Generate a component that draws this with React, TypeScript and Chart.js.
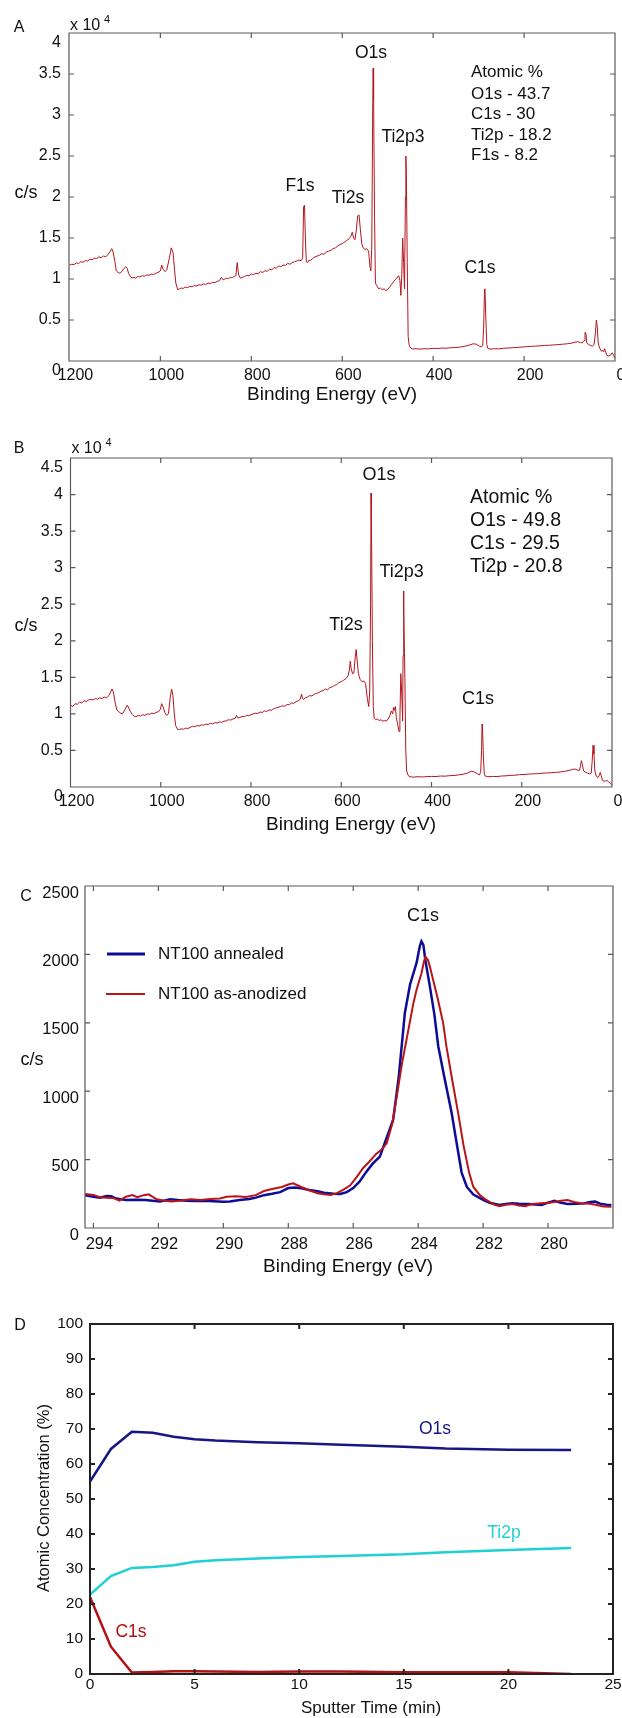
import React, { useEffect, useRef } from "react";
import { Chart, registerables } from "chart.js";

Chart.register(...registerables);

const FONT = '"Liberation Sans", Arial, Helvetica, sans-serif';

// ---------- Panel A: survey spectrum (as-anodized) [binding energy eV, counts/s]
const A_SPECTRUM: [number, number][] = [
  [1200, 11700], [1195, 11800], [1190, 11750], [1185, 11950], [1180, 11900], [1175, 12100],
  [1170, 12050], [1165, 12250], [1160, 12200], [1155, 12400], [1150, 12350], [1145, 12550],
  [1140, 12500], [1135, 12700], [1130, 12600], [1125, 12800], [1120, 12700], [1115, 13000],
  [1110, 13400], [1107, 13700], [1104, 13300], [1100, 12100], [1097, 11000], [1093, 10800],
  [1089, 10700], [1085, 10900], [1080, 11300], [1076, 11500], [1073, 11300], [1070, 10700],
  [1066, 10300], [1062, 10100], [1058, 10200], [1054, 10100], [1050, 10300], [1045, 10250],
  [1040, 10400], [1035, 10350], [1030, 10500], [1025, 10450], [1020, 10600], [1015, 10550],
  [1010, 10700], [1005, 10800], [1000, 11000], [997, 11700], [994, 11200], [990, 10900],
  [986, 11100], [980, 12600], [976, 13800], [972, 13200], [969, 11200], [966, 9500],
  [962, 8700], [958, 8800], [954, 8900], [950, 8850], [945, 9000], [940, 8950], [935, 9100],
  [930, 9050], [925, 9200], [920, 9150], [915, 9300], [910, 9250], [905, 9400], [900, 9350],
  [895, 9500], [890, 9450], [885, 9600], [880, 9550], [875, 9700], [870, 9800], [866, 10200],
  [862, 9900], [858, 10000], [854, 10100], [850, 10050], [846, 10200], [842, 10150],
  [838, 10300], [834, 10400], [831, 12000], [828, 10500], [824, 10100], [820, 10200],
  [815, 10300], [810, 10450], [805, 10400], [800, 10600], [795, 10550], [790, 10700],
  [785, 10650], [780, 10900], [775, 10800], [770, 11000], [765, 10950], [760, 11200],
  [755, 11100], [750, 11400], [745, 11300], [740, 11600], [735, 11500], [730, 11700],
  [725, 11650], [720, 11900], [715, 11800], [710, 12000], [705, 12100], [700, 12200],
  [695, 12300], [690, 12250], [687, 12600], [685, 18800], [683, 19000], [681, 15000],
  [679, 12100], [676, 12000], [673, 12300], [670, 12250], [665, 12500], [660, 12700],
  [655, 12800], [650, 12900], [645, 13100], [640, 13000], [635, 13300], [630, 13400],
  [625, 13500], [620, 13700], [615, 13800], [610, 14000], [605, 14200], [600, 14300],
  [595, 14500], [590, 14700], [585, 14900], [581, 15200], [578, 15700], [575, 15000],
  [572, 14800], [569, 16000], [566, 17700], [563, 17800], [560, 16000], [557, 14300],
  [554, 13800], [550, 13600], [546, 13700], [542, 13400], [539, 11500], [537, 11000],
  [535, 14000], [533, 30000], [532, 35700], [531, 32000], [529, 18000], [527, 9500],
  [524, 9200], [520, 8800], [516, 8900], [512, 8700], [508, 8800], [504, 8600], [500, 8700],
  [496, 9000], [492, 9300], [488, 9600], [484, 9900], [480, 10100], [476, 10400], [473, 9800],
  [471, 8000], [469, 10500], [467, 15000], [465, 12000], [463, 8800], [461, 20000],
  [460, 25000], [459, 23000], [457, 12000], [455, 3000], [453, 2000], [450, 1600], [445, 1450],
  [440, 1500], [430, 1450], [420, 1500], [410, 1480], [400, 1550], [390, 1520], [380, 1580],
  [370, 1560], [360, 1620], [350, 1650], [340, 1700], [330, 1800], [320, 1950], [312, 2100],
  [305, 2050], [298, 1800], [294, 1700], [291, 1900], [289, 4000], [287, 8700], [286, 8800],
  [284, 5000], [282, 2000], [280, 1550], [275, 1450], [265, 1500], [255, 1480], [245, 1550],
  [235, 1580], [225, 1620], [215, 1650], [205, 1700], [195, 1750], [185, 1780], [175, 1820],
  [165, 1850], [155, 1900], [145, 1920], [135, 1960], [125, 2000], [115, 2050], [105, 2100],
  [95, 2180], [88, 2300], [82, 2350], [76, 2250], [72, 2200], [68, 2500], [66, 3500],
  [64, 3400], [62, 2200], [58, 2000], [54, 1900], [50, 1800], [46, 2000], [43, 3500],
  [41, 5000], [39, 4200], [37, 2200], [34, 1600], [30, 1200], [27, 1300], [25, 1100],
  [23, 1500], [21, 1200], [18, 700], [14, 600], [10, 700], [6, 1000], [3, 700], [1, 400], [0, 300],
];

// ---------- Panel B: survey spectrum (annealed)
const B_SPECTRUM: [number, number][] = [
  [1200, 11200], [1195, 11000], [1190, 11400], [1185, 11300], [1180, 11600], [1175, 11500],
  [1170, 11800], [1165, 11700], [1160, 11900], [1155, 12000], [1150, 11900], [1145, 12100],
  [1140, 12000], [1135, 12200], [1130, 12100], [1125, 12300], [1120, 12200], [1115, 12500],
  [1111, 13000], [1108, 13400], [1105, 13000], [1101, 11500], [1097, 10500], [1093, 10300],
  [1089, 10100], [1085, 10000], [1081, 10400], [1077, 10900], [1074, 11200], [1071, 10800],
  [1067, 10300], [1063, 9900], [1059, 9700], [1055, 9600], [1050, 9800], [1045, 9700],
  [1040, 9900], [1035, 9800], [1030, 10000], [1025, 9950], [1020, 10100], [1015, 10050],
  [1010, 10200], [1005, 10300], [1001, 10600], [998, 11400], [995, 11000], [991, 10200],
  [987, 9800], [983, 10000], [979, 12200], [976, 13400], [973, 12500], [970, 10000],
  [967, 8400], [963, 7900], [959, 7850], [955, 7950], [950, 7900], [945, 8050], [940, 8000],
  [935, 8150], [930, 8300], [925, 8250], [920, 8400], [915, 8350], [910, 8500], [905, 8450],
  [900, 8600], [895, 8550], [890, 8700], [885, 8650], [880, 8800], [875, 8750], [870, 8900],
  [865, 8850], [860, 9000], [855, 9050], [850, 9200], [845, 9150], [840, 9300], [835, 9400],
  [832, 9800], [829, 9450], [825, 9500], [820, 9650], [815, 9600], [810, 9800], [805, 9750],
  [800, 9900], [795, 10000], [790, 10100], [785, 10050], [780, 10250], [775, 10200],
  [770, 10400], [765, 10350], [760, 10550], [755, 10500], [750, 10700], [745, 10800],
  [740, 10900], [735, 11000], [730, 11100], [725, 11050], [720, 11300], [715, 11250],
  [710, 11500], [705, 11450], [700, 11700], [695, 11800], [691, 12000], [688, 12700],
  [686, 12100], [683, 12000], [680, 12200], [675, 12300], [670, 12500], [665, 12450],
  [660, 12700], [655, 12800], [650, 12900], [645, 13100], [640, 13200], [635, 13400],
  [630, 13300], [625, 13600], [620, 13700], [615, 13900], [610, 14000], [605, 14300],
  [600, 14400], [595, 14600], [590, 14800], [585, 15200], [582, 16000], [580, 17200],
  [578, 16200], [575, 15500], [572, 15600], [569, 17800], [567, 18800], [565, 17500],
  [562, 15500], [558, 14700], [554, 14400], [550, 14500], [546, 14100], [542, 12000],
  [539, 11000], [537, 13000], [535, 25000], [534, 40200], [533, 36000], [531, 20000],
  [529, 11000], [527, 9400], [524, 9200], [520, 9300], [516, 9100], [512, 9200], [508, 9000],
  [504, 9100], [500, 9000], [496, 9300], [492, 9800], [489, 10400], [486, 10000], [484, 10900],
  [482, 10500], [480, 11000], [478, 9500], [475, 8600], [472, 7600], [470, 9500], [468, 15500],
  [466, 13000], [464, 9000], [463, 18000], [462, 26800], [461, 24000], [459, 15000],
  [457, 5000], [455, 2200], [452, 1600], [448, 1400], [440, 1350], [430, 1400], [420, 1380],
  [410, 1420], [400, 1450], [390, 1430], [380, 1500], [370, 1480], [360, 1550], [350, 1580],
  [340, 1650], [330, 1750], [320, 1900], [312, 2150], [305, 2050], [298, 1800], [294, 1650],
  [291, 2000], [289, 5000], [288, 8600], [287, 8200], [285, 4000], [283, 1800], [281, 1500],
  [275, 1400], [265, 1450], [255, 1430], [245, 1500], [235, 1530], [225, 1580], [215, 1620],
  [205, 1680], [195, 1720], [185, 1760], [175, 1800], [165, 1820], [155, 1880], [145, 1920],
  [135, 1950], [125, 2000], [115, 2050], [105, 2150], [95, 2250], [88, 2400], [82, 2450],
  [76, 2300], [72, 2300], [70, 2800], [68, 3600], [66, 3200], [63, 2200], [58, 2000],
  [54, 1900], [50, 1800], [46, 1900], [44, 3500], [42, 5700], [40, 4500], [38, 2200],
  [35, 1500], [31, 1300], [28, 1600], [26, 2000], [24, 1600], [21, 900], [18, 800], [15, 800],
  [12, 900], [9, 800], [6, 600], [3, 500], [1, 300], [0, 300],
];

// ---------- Panel C: C1s high resolution
const C_ANNEALED: [number, number][] = [
  [294.26, 240], [294.0, 229], [293.8, 222], [293.6, 234], [293.45, 232], [293.3, 215],
  [293.0, 205], [292.7, 206], [292.4, 205], [292.1, 198], [291.95, 193], [291.64, 210],
  [291.4, 204], [291.13, 200], [290.9, 198], [290.6, 200], [290.3, 196], [290.0, 192],
  [289.8, 194], [289.5, 205], [289.2, 212], [289.0, 222], [288.75, 240], [288.5, 250],
  [288.25, 262], [288.0, 292], [287.8, 296], [287.6, 290], [287.35, 278], [287.1, 268],
  [286.9, 258], [286.6, 250], [286.4, 248], [286.2, 262], [286.0, 292], [285.8, 340],
  [285.6, 410], [285.4, 470], [285.18, 522], [285.0, 640], [284.77, 791], [284.6, 1100],
  [284.41, 1572], [284.25, 1780], [284.05, 1938], [283.95, 2060], [283.9, 2096], [283.84, 2070],
  [283.78, 1960], [283.64, 1766], [283.5, 1560], [283.38, 1327], [283.2, 1110], [282.97, 842],
  [282.8, 600], [282.66, 403], [282.5, 300], [282.3, 245], [282.0, 205], [281.8, 185],
  [281.5, 168], [281.3, 175], [281.1, 181], [280.9, 178], [280.6, 176], [280.4, 172],
  [280.2, 168], [280.0, 185], [279.8, 198], [279.6, 184], [279.4, 176], [279.1, 178],
  [278.9, 180], [278.7, 190], [278.55, 193], [278.4, 178], [278.2, 170], [278.05, 168],
];

const C_ANODIZED: [number, number][] = [
  [294.26, 249], [294.0, 242], [293.8, 225], [293.6, 222], [293.4, 220], [293.2, 200],
  [293.0, 229], [292.8, 241], [292.65, 225], [292.45, 240], [292.3, 246], [292.05, 210],
  [291.8, 200], [291.6, 193], [291.35, 200], [291.2, 205], [291.0, 210], [290.7, 205],
  [290.4, 212], [290.1, 215], [289.9, 228], [289.6, 232], [289.3, 226], [289.0, 240],
  [288.75, 270], [288.5, 285], [288.2, 300], [288.0, 318], [287.85, 327], [287.65, 305],
  [287.4, 280], [287.1, 254], [286.9, 246], [286.7, 242], [286.5, 255], [286.3, 280],
  [286.1, 310], [285.9, 370], [285.7, 437], [285.5, 486], [285.3, 540], [285.1, 580],
  [284.97, 620], [284.8, 760], [284.66, 961], [284.5, 1200], [284.3, 1450], [284.15, 1640],
  [284.05, 1742], [283.9, 1860], [283.82, 1950], [283.77, 1982], [283.7, 1960], [283.65, 1920],
  [283.54, 1815], [283.4, 1680], [283.23, 1498], [283.13, 1327], [282.95, 1080], [282.77, 842],
  [282.6, 600], [282.43, 403], [282.3, 300], [282.1, 240], [281.9, 205], [281.7, 175],
  [281.5, 160], [281.3, 170], [281.1, 176], [280.9, 165], [280.7, 160], [280.5, 175],
  [280.2, 181], [280.0, 185], [279.8, 190], [279.6, 200], [279.4, 205], [279.2, 190],
  [279.0, 181], [278.7, 178], [278.5, 168], [278.3, 158], [278.05, 156],
];

// ---------- Panel D: depth profile
const D_TIME = [0, 1, 2, 3, 4, 5, 6, 8, 10, 12, 15, 17, 20, 23];
const D_O1S = [55, 64.3, 69.2, 68.9, 67.8, 67.1, 66.7, 66.2, 65.9, 65.5, 64.9, 64.4, 64.1, 64.0];
const D_TI2P = [22.7, 28, 30.3, 30.6, 31.1, 32.1, 32.5, 33.0, 33.4, 33.7, 34.2, 34.8, 35.4, 36.0];
const D_C1S = [22, 7.8, 0.4, 0.6, 0.8, 0.8, 0.7, 0.6, 0.7, 0.7, 0.5, 0.5, 0.5, 0];

// ---------- Tick values
const SURVEY_X_TICKS = [1200, 1000, 800, 600, 400, 200, 0];
const A_Y_TICKS = [0, 5000, 10000, 15000, 20000, 25000, 30000, 35000, 40000];
const B_Y_TICKS = [0, 5000, 10000, 15000, 20000, 25000, 30000, 35000, 40000, 45000];
const C_X_TICKS = [294, 292, 290, 288, 286, 284, 282, 280];
const C_Y_TICKS = [0, 500, 1000, 1500, 2000, 2500];
const D_X_TICKS = [0, 5, 10, 15, 20, 25];
const D_Y_TICKS = [0, 10, 20, 30, 40, 50, 60, 70, 80, 90, 100];

// ---------- Text
const A_ATOMIC = ["Atomic %", "O1s - 43.7", "C1s - 30", "Ti2p - 18.2", "F1s - 8.2"];
const B_ATOMIC = ["Atomic %", "O1s - 49.8", "C1s - 29.5", "Ti2p - 20.8"];

const SURVEY_RED = "rgb(178,22,30)";
const C_BLUE = "rgb(12,12,150)";
const C_RED = "rgb(185,20,24)";
const D_NAVY = "rgb(22,22,135)";
const D_CYAN = "rgb(32,208,212)";
const D_RED = "rgb(180,16,18)";

type Txt = { t: string; x: number; y: number; s: number; c?: string; a?: CanvasTextAlign; r?: boolean };
type LegendItem = { label: string; color: string; width: number; y: number; x0: number; x1: number; tx: number; s: number };

type Panel = {
  key: string;
  canvasTop: number;
  canvasHeight: number;
  plotLeft: number;
  plotRight: number;
  plotTop: number;
  plotBottom: number;
  xMin: number;
  xMax: number;
  xReverse: boolean;
  xTicks: number[];
  yMin: number;
  yMax: number;
  yTicks: number[];
  yFmt: (v: number) => string;
  yEndsDrop: boolean;
  tickFont: number;
  xPad: number;
  yPad: number;
  xLabelOffset: number;
  yLabelOffset: number;
  frameColor: string;
  frameWidth: number;
  tickLen: number;
  datasets: any[];
  texts: Txt[];
  legend?: LegendItem[];
};

const pts = (arr: [number, number][]) => arr.map(([x, y]) => ({ x, y }));
const zip = (xs: number[], ys: number[]) => xs.map((x, i) => ({ x, y: ys[i] }));

const lineDs = (data: { x: number; y: number }[], color: string, width: number) => ({
  data,
  borderColor: color,
  borderWidth: width,
  pointRadius: 0,
  tension: 0,
  fill: false,
});

const atomicTexts = (lines: string[], x: number, ys: number[], s: number): Txt[] =>
  lines.map((t, i) => ({ t, x, y: ys[i], s, a: "left" as CanvasTextAlign }));

const PANELS: Panel[] = [
  {
    key: "A",
    canvasTop: 0,
    canvasHeight: 412,
    plotLeft: 69,
    plotRight: 615,
    plotTop: 33,
    plotBottom: 361,
    xMin: 0,
    xMax: 1201,
    xReverse: true,
    xTicks: SURVEY_X_TICKS,
    yMin: 0,
    yMax: 40000,
    yTicks: A_Y_TICKS,
    yFmt: (v) => String(v / 10000),
    yEndsDrop: true,
    tickFont: 16,
    xPad: 5.4,
    yPad: 8,
    xLabelOffset: 6,
    yLabelOffset: 0,
    frameColor: "#5a5a5a",
    frameWidth: 1.2,
    tickLen: 5,
    datasets: [lineDs(pts(A_SPECTRUM), SURVEY_RED, 1)],
    texts: [
      { t: "A", x: 19, y: 27.5, s: 16 },
      { t: "x 10", x: 70, y: 26, s: 16, a: "left" },
      { t: "4", x: 104, y: 20, s: 11, a: "left" },
      { t: "c/s", x: 26, y: 193, s: 18 },
      { t: "O1s", x: 371, y: 53, s: 17.5 },
      { t: "Ti2p3", x: 403, y: 137, s: 17.5 },
      { t: "F1s", x: 300, y: 186, s: 17.5 },
      { t: "Ti2s", x: 348, y: 198, s: 17.5 },
      { t: "C1s", x: 480, y: 268, s: 17.5 },
      ...atomicTexts(A_ATOMIC, 471, [72.7, 94, 114.3, 135, 155.7], 17),
      { t: "Binding Energy (eV)", x: 332, y: 395, s: 19 },
    ],
  },
  {
    key: "B",
    canvasTop: 412,
    canvasHeight: 428,
    plotLeft: 70.5,
    plotRight: 612,
    plotTop: 458,
    plotBottom: 787,
    xMin: 0,
    xMax: 1200,
    xReverse: true,
    xTicks: SURVEY_X_TICKS,
    yMin: 0,
    yMax: 45000,
    yTicks: B_Y_TICKS,
    yFmt: (v) => String(v / 10000),
    yEndsDrop: true,
    tickFont: 16,
    xPad: 5.4,
    yPad: 7.5,
    xLabelOffset: 6,
    yLabelOffset: 0,
    frameColor: "#5a5a5a",
    frameWidth: 1.2,
    tickLen: 5,
    datasets: [lineDs(pts(B_SPECTRUM), SURVEY_RED, 1)],
    texts: [
      { t: "B", x: 19, y: 449, s: 16 },
      { t: "x 10", x: 71.4, y: 449, s: 16, a: "left" },
      { t: "4", x: 105.5, y: 443, s: 11, a: "left" },
      { t: "c/s", x: 26, y: 626, s: 18 },
      { t: "O1s", x: 379, y: 475, s: 18 },
      { t: "Ti2p3", x: 401.6, y: 572, s: 18 },
      { t: "Ti2s", x: 346, y: 625, s: 18 },
      { t: "C1s", x: 478, y: 699, s: 18 },
      ...atomicTexts(B_ATOMIC, 470, [498, 520.7, 544, 566.7], 19.5),
      { t: "Binding Energy (eV)", x: 351, y: 825, s: 19 },
    ],
  },
  {
    key: "C",
    canvasTop: 840,
    canvasHeight: 440,
    plotLeft: 85,
    plotRight: 613,
    plotTop: 886,
    plotBottom: 1228,
    xMin: 278.0,
    xMax: 294.26,
    xReverse: true,
    xTicks: C_X_TICKS,
    yMin: 0,
    yMax: 2500,
    yTicks: C_Y_TICKS,
    yFmt: (v) => String(v),
    yEndsDrop: false,
    tickFont: 16.5,
    xPad: 6.4,
    yPad: 6,
    xLabelOffset: 6,
    yLabelOffset: 7,
    frameColor: "#5a5a5a",
    frameWidth: 1.2,
    tickLen: 5,
    datasets: [
      lineDs(pts(C_ANODIZED), C_RED, 2),
      lineDs(pts(C_ANNEALED), C_BLUE, 2.5),
    ],
    texts: [
      { t: "C", x: 26, y: 897, s: 16 },
      { t: "c/s", x: 32, y: 1060, s: 18 },
      { t: "C1s", x: 423, y: 916, s: 18 },
      { t: "Binding Energy (eV)", x: 348, y: 1267, s: 19 },
    ],
    legend: [
      { label: "NT100 annealed", color: C_BLUE, width: 3, y: 954, x0: 107, x1: 145, tx: 158, s: 17 },
      { label: "NT100 as-anodized", color: C_RED, width: 2.2, y: 994, x0: 106, x1: 145, tx: 158, s: 17 },
    ],
  },
  {
    key: "D",
    canvasTop: 1280,
    canvasHeight: 438,
    plotLeft: 90,
    plotRight: 613,
    plotTop: 1324,
    plotBottom: 1674,
    xMin: 0,
    xMax: 25,
    xReverse: false,
    xTicks: D_X_TICKS,
    yMin: 0,
    yMax: 100,
    yTicks: D_Y_TICKS,
    yFmt: (v) => String(v),
    yEndsDrop: false,
    tickFont: 15.5,
    xPad: 1,
    yPad: 7,
    xLabelOffset: 0,
    yLabelOffset: 0,
    frameColor: "#222222",
    frameWidth: 2,
    tickLen: 5,
    datasets: [
      lineDs(zip(D_TIME, D_O1S), D_NAVY, 2.5),
      lineDs(zip(D_TIME, D_TI2P), D_CYAN, 2.5),
      lineDs(zip(D_TIME, D_C1S), D_RED, 2.5),
    ],
    texts: [
      { t: "D", x: 20, y: 1326, s: 16 },
      { t: "O1s", x: 435, y: 1429, s: 17.5, c: D_NAVY },
      { t: "Ti2p", x: 504, y: 1533, s: 17.5, c: D_CYAN },
      { t: "C1s", x: 131, y: 1632, s: 17.5, c: D_RED },
      { t: "Atomic Concentration (%)", x: 44.5, y: 1498, s: 16.5, r: true },
      { t: "Sputter Time (min)", x: 371, y: 1708, s: 17 },
    ],
  },
];

function framePlugin(p: Panel) {
  return {
    id: "frame" + p.key,
    afterDatasetsDraw(chart: any) {
      const { ctx, chartArea } = chart;
      const { left, right, top, bottom } = chartArea;
      const xs = chart.scales.x;
      const ys = chart.scales.y;
      ctx.save();
      ctx.strokeStyle = p.frameColor;
      ctx.lineWidth = p.frameWidth;
      ctx.beginPath();
      ctx.rect(left, top, right - left, bottom - top);
      p.xTicks.forEach((v) => {
        const px = xs.getPixelForValue(v);
        if (px < left + 1 || px > right - 1) return;
        ctx.moveTo(px, bottom);
        ctx.lineTo(px, bottom - p.tickLen);
        ctx.moveTo(px, top);
        ctx.lineTo(px, top + p.tickLen);
      });
      p.yTicks.forEach((v) => {
        const py = ys.getPixelForValue(v);
        if (py < top + 1 || py > bottom - 1) return;
        ctx.moveTo(left, py);
        ctx.lineTo(left + p.tickLen, py);
        ctx.moveTo(right, py);
        ctx.lineTo(right - p.tickLen, py);
      });
      ctx.stroke();
      ctx.restore();
    },
    afterDraw(chart: any) {
      const { ctx } = chart;
      ctx.save();
      ctx.textBaseline = "middle";
      p.texts.forEach((t) => {
        ctx.font = `${t.s}px ${FONT}`;
        ctx.fillStyle = t.c || "#111111";
        ctx.textAlign = t.a || "center";
        const y = t.y - p.canvasTop;
        if (t.r) {
          ctx.save();
          ctx.translate(t.x, y);
          ctx.rotate(-Math.PI / 2);
          ctx.fillText(t.t, 0, 0);
          ctx.restore();
        } else {
          ctx.fillText(t.t, t.x, y);
        }
      });
      (p.legend || []).forEach((l) => {
        const y = l.y - p.canvasTop;
        ctx.strokeStyle = l.color;
        ctx.lineWidth = l.width;
        ctx.beginPath();
        ctx.moveTo(l.x0, y);
        ctx.lineTo(l.x1, y);
        ctx.stroke();
        ctx.font = `${l.s}px ${FONT}`;
        ctx.fillStyle = "#111111";
        ctx.textAlign = "left";
        ctx.fillText(l.label, l.tx, y);
      });
      ctx.restore();
    },
  };
}

function buildConfig(p: Panel): any {
  const canvasBottom = p.canvasTop + p.canvasHeight;
  const tickFont = { family: FONT, size: p.tickFont };
  return {
    type: "line",
    data: { datasets: p.datasets },
    options: {
      responsive: false,
      maintainAspectRatio: false,
      animation: false,
      layout: {
        padding: { top: p.plotTop - p.canvasTop, right: 622 - p.plotRight, left: 0, bottom: 0 },
      },
      plugins: { legend: { display: false }, tooltip: { enabled: false }, title: { display: false } },
      scales: {
        x: {
          type: "linear",
          min: p.xMin,
          max: p.xMax,
          reverse: p.xReverse,
          grid: { display: false, drawTicks: false },
          border: { display: false },
          ticks: {
            font: tickFont,
            color: "#111111",
            padding: p.xPad,
            labelOffset: p.xLabelOffset,
            maxRotation: 0,
            minRotation: 0,
            autoSkip: false,
            callback: (v: number) => String(v),
          },
          afterBuildTicks: (s: any) => {
            s.ticks = p.xTicks.map((v) => ({ value: v }));
          },
          afterFit: (s: any) => {
            s.height = canvasBottom - p.plotBottom;
            s.paddingLeft = 0;
            s.paddingRight = 0;
          },
        },
        y: {
          type: "linear",
          min: p.yMin,
          max: p.yMax,
          grid: { display: false, drawTicks: false },
          border: { display: false },
          ticks: {
            font: tickFont,
            color: "#111111",
            padding: p.yPad,
            labelOffset: p.yLabelOffset,
            autoSkip: false,
            callback: (v: number) => {
              const label = p.yFmt(v);
              // the end labels sit a little below their ticks in the original
              if (p.yEndsDrop && (v === p.yMin || v === p.yMax)) return ["", label];
              return label;
            },
          },
          afterBuildTicks: (s: any) => {
            s.ticks = p.yTicks.map((v) => ({ value: v }));
          },
          afterFit: (s: any) => {
            s.width = p.plotLeft;
            s.paddingTop = 0;
            s.paddingBottom = 0;
          },
        },
      },
    },
    plugins: [framePlugin(p)],
  };
}

function PanelChart({ p }: { p: Panel }) {
  const ref = useRef<HTMLCanvasElement | null>(null);
  useEffect(() => {
    if (!ref.current) return;
    const chart = new Chart(ref.current, buildConfig(p));
    return () => chart.destroy();
  }, [p]);
  return (
    <canvas
      ref={ref}
      width={622}
      height={p.canvasHeight}
      style={{ position: "absolute", left: 0, top: p.canvasTop, width: 622, height: p.canvasHeight, display: "block" }}
    />
  );
}

export default function App() {
  return (
    <div style={{ position: "absolute", left: 0, top: 0, width: 622, height: 1718, background: "#ffffff", overflow: "hidden" }}>
      {PANELS.map((p) => (
        <PanelChart key={p.key} p={p} />
      ))}
    </div>
  );
}
